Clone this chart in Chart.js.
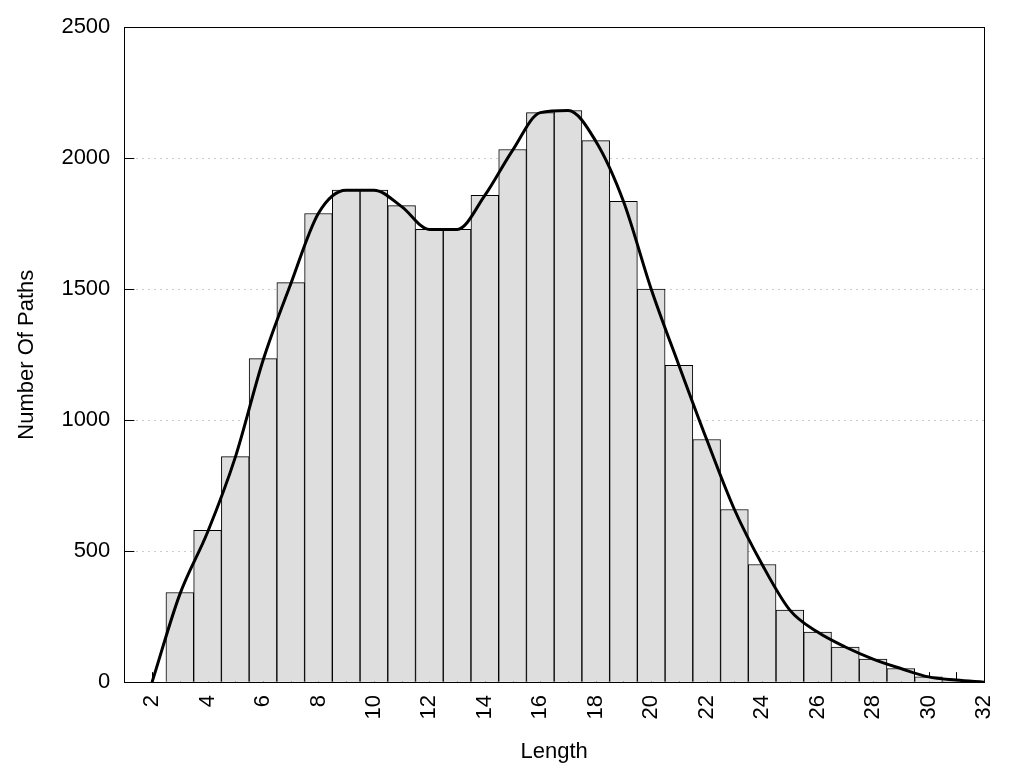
<!DOCTYPE html>
<html>
<head>
<meta charset="utf-8">
<script src="https://cdn.jsdelivr.net/npm/chart.js@4/dist/chart.umd.min.js"></script>
<style>
  html, body { margin: 0; padding: 0; background: #fff; }
  canvas { display: block; }
</style>
</head>
<body>
<canvas id="chart" width="1024" height="768"></canvas>
<script>
// histogram bars (length -> count)
const barLengths = [3, 4, 5, 6, 7, 8, 9, 10, 11, 12, 13, 14, 15, 16, 17, 18, 19, 20, 21, 22, 23, 24, 25, 26, 27, 28, 29, 30, 31];
const barCounts = [342, 579, 861, 1235, 1525, 1789, 1878, 1878, 1819, 1728, 1728, 1858, 2033, 2174, 2182, 2067, 1835, 1500, 1209, 926, 659, 449, 275, 191, 134, 88, 52, 20, 5];

// smoothed density curve
const curveLengths = [2, 3, 4, 5, 6, 7, 8, 9, 10, 11, 12, 13, 14, 15, 16, 17, 18, 19, 20, 21, 22, 23, 24, 25, 26, 27, 28, 29, 30, 31, 32];
const curveCounts = [0, 335, 572, 858, 1228, 1520, 1790, 1878, 1878, 1815, 1728, 1728, 1858, 2030, 2174, 2182, 2065, 1835, 1500, 1209, 926, 659, 449, 275, 191, 134, 88, 52, 20, 8, 0];

const xTicks = [2, 4, 6, 8, 10, 12, 14, 16, 18, 20, 22, 24, 26, 28, 30, 32];
const yTicks = [0, 500, 1000, 1500, 2000, 2500];

const FONT = "'Liberation Sans', Arial, sans-serif";

// frame + inner tick marks
const frame = {
    id: 'frame',
    beforeDatasetsDraw(chart) {
        const ctx = chart.ctx;
        const area = chart.chartArea;
        const x = chart.scales.x;
        const y = chart.scales.y;
        ctx.save();
        ctx.strokeStyle = '#000';
        ctx.lineWidth = 1;
        ctx.beginPath();
        for (let v = 2; v < 32; v++) {
            const px = Math.round(x.getPixelForValue(v)) + 0.5;
            ctx.moveTo(px, area.bottom);
            ctx.lineTo(px, area.bottom - 10);
        }
        yTicks.forEach(v => {
            const py = Math.round(y.getPixelForValue(v)) + 0.5;
            ctx.moveTo(area.left, py);
            ctx.lineTo(area.left + 10, py);
        });
        ctx.stroke();
        ctx.restore();
    },
    afterDraw(chart) {
        const ctx = chart.ctx;
        const a = chart.chartArea;
        ctx.save();
        ctx.strokeStyle = '#000';
        ctx.lineWidth = 1;
        ctx.strokeRect(Math.round(a.left) + 0.5, Math.round(a.top) + 0.5,
            Math.round(a.right - a.left), Math.round(a.bottom - a.top));
        ctx.restore();
    }
};

new Chart(document.getElementById('chart'), {
    data: {
        datasets: [{
            type: 'line',
            order: 0,
            data: curveLengths.map((v, i) => ({ x: v, y: curveCounts[i] })),
            borderColor: '#000',
            borderWidth: 3,
            pointRadius: 0,
            fill: false,
            cubicInterpolationMode: 'monotone'
        }, {
            type: 'bar',
            order: 1,
            data: barLengths.map((v, i) => ({ x: v, y: barCounts[i] })),
            backgroundColor: '#dedede',
            borderColor: '#000',
            borderWidth: 1,
            barPercentage: 1,
            categoryPercentage: 1
        }]
    },
    options: {
        responsive: false,
        animation: false,
        layout: { padding: { top: 19, right: 40, left: 7, bottom: 3 } },
        plugins: { legend: { display: false }, tooltip: { enabled: false } },
        scales: {
            x: {
                type: 'linear',
                min: 1,
                max: 32,
                offset: false,
                afterBuildTicks: scale => { scale.ticks = xTicks.map(v => ({ value: v })); },
                grid: { display: false, drawTicks: false, offset: false },
                border: { display: false },
                ticks: {
                    autoSkip: false,
                    minRotation: 90,
                    maxRotation: 90,
                    padding: 13,
                    color: '#000',
                    font: { family: FONT, size: 22 },
                    callback: v => String(v)
                },
                title: {
                    display: true,
                    text: 'Length',
                    color: '#000',
                    font: { family: FONT, size: 22 },
                    padding: { top: 6, bottom: 0 }
                }
            },
            y: {
                min: 0,
                max: 2500,
                afterBuildTicks: scale => { scale.ticks = yTicks.map(v => ({ value: v })); },
                grid: {
                    drawTicks: false,
                    color: c => (c.tick && (c.tick.value === 0 || c.tick.value === 2500)) ? 'rgba(0,0,0,0)' : '#cccccc',
                    lineWidth: 1
                },
                border: { display: false, dash: [2, 4] },
                ticks: {
                    padding: 14,
                    color: '#000',
                    font: { family: FONT, size: 22 },
                    callback: v => String(v)
                },
                title: {
                    display: true,
                    text: 'Number Of Paths',
                    color: '#000',
                    font: { family: FONT, size: 22 },
                    padding: { top: 7, bottom: 7 }
                }
            }
        }
    },
    plugins: [frame]
});
</script>
</body>
</html>
